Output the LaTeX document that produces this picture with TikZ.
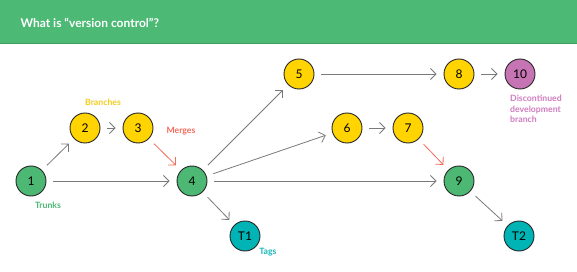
\documentclass[tikz,border=0pt]{standalone}
\usepackage{fontspec}
\setmainfont{Lato}
\usetikzlibrary{arrows.meta}
\definecolor{hdr}{HTML}{4CBA74}
\definecolor{hdrline}{HTML}{3E9E60}
\definecolor{ngreen}{HTML}{4CB874}
\definecolor{nyellow}{HTML}{FFD400}
\definecolor{npink}{HTML}{C774B5}
\definecolor{nteal}{HTML}{00B3B5}
\definecolor{ared}{HTML}{F26B5B}
\definecolor{agray}{HTML}{7A7A7A}
\definecolor{lyellow}{HTML}{F5CC1B}
\definecolor{lgreen}{HTML}{4CB874}
\definecolor{lpink}{HTML}{D07CC0}
\definecolor{lteal}{HTML}{17B7BB}
\begin{document}
\begin{tikzpicture}[x=1pt,y=-1pt,
  commit/.style={circle,draw=black!85,line width=0.9pt,minimum size=30pt,inner sep=0pt,font=\fontsize{12}{12}\selectfont},
  gc/.style={commit,fill=ngreen},
  yc/.style={commit,fill=nyellow},
  pc/.style={commit,fill=npink},
  tc/.style={commit,fill=nteal},
  arr/.style={draw=agray,line width=0.8pt,-{Straight Barb[length=5.5pt,width=11pt]},shorten <=7pt,shorten >=7pt},
  rarr/.style={arr,draw=ared},
  lbl/.style={font=\bfseries\fontsize{8.7}{10.5}\selectfont}
]
\useasboundingbox (0,0) rectangle (577,272);
\fill[white] (0,0) rectangle (577,272);
\fill[hdr] (0,0) rectangle (577,44);
\draw[hdrline,line width=1pt] (0,44) -- (577,44);
\node[anchor=west,text=white,font=\bfseries\fontsize{12}{12}\selectfont] (title) at (17,23) {What is “version control”?};

\node[gc] (n1) at (31,181) {1};
\node[yc] (n2) at (85,128) {2};
\node[yc] (n3) at (138,128) {3};
\node[gc] (n4) at (192,181) {4};
\node[yc] (n5) at (299,74) {5};
\node[yc] (n6) at (347,128) {6};
\node[yc] (n7) at (408,128) {7};
\node[yc] (n8) at (459,74) {8};
\node[gc] (n9) at (459,181) {9};
\node[pc] (n10) at (520,74) {10};
\node[tc] (t1) at (245,236) {T1};
\node[tc] (t2) at (519,236) {T2};

\draw[arr] (n1) -- (n2);
\draw[arr] (n2) -- (n3);
\draw[arr] (n1) -- (n4);
\draw[rarr] (n3) -- (n4);
\draw[arr] (n4) -- (n5);
\draw[arr] (n4) -- (n6);
\draw[arr] (n4) -- (n9);
\draw[arr] (n4) -- (t1);
\draw[arr] (n5) -- (n8);
\draw[arr] (n8) -- (n10);
\draw[arr] (n6) -- (n7);
\draw[rarr] (n7) -- (n9);
\draw[arr] (n9) -- (t2);

\node[lbl,text=lyellow] (lb) at (103,102) {Branches};
\node[lbl,text=ared] (lm) at (181,131) {Merges};
\node[lbl,text=lgreen] (lt) at (48,205) {Trunks};
\node[lbl,text=lteal] (ltg) at (268,252) {Tags};
\node[lbl,text=lpink,anchor=north west,align=left,inner sep=0pt] (ld) at (510,95) {Discontinued\\development\\branch};
\end{tikzpicture}
\end{document}
